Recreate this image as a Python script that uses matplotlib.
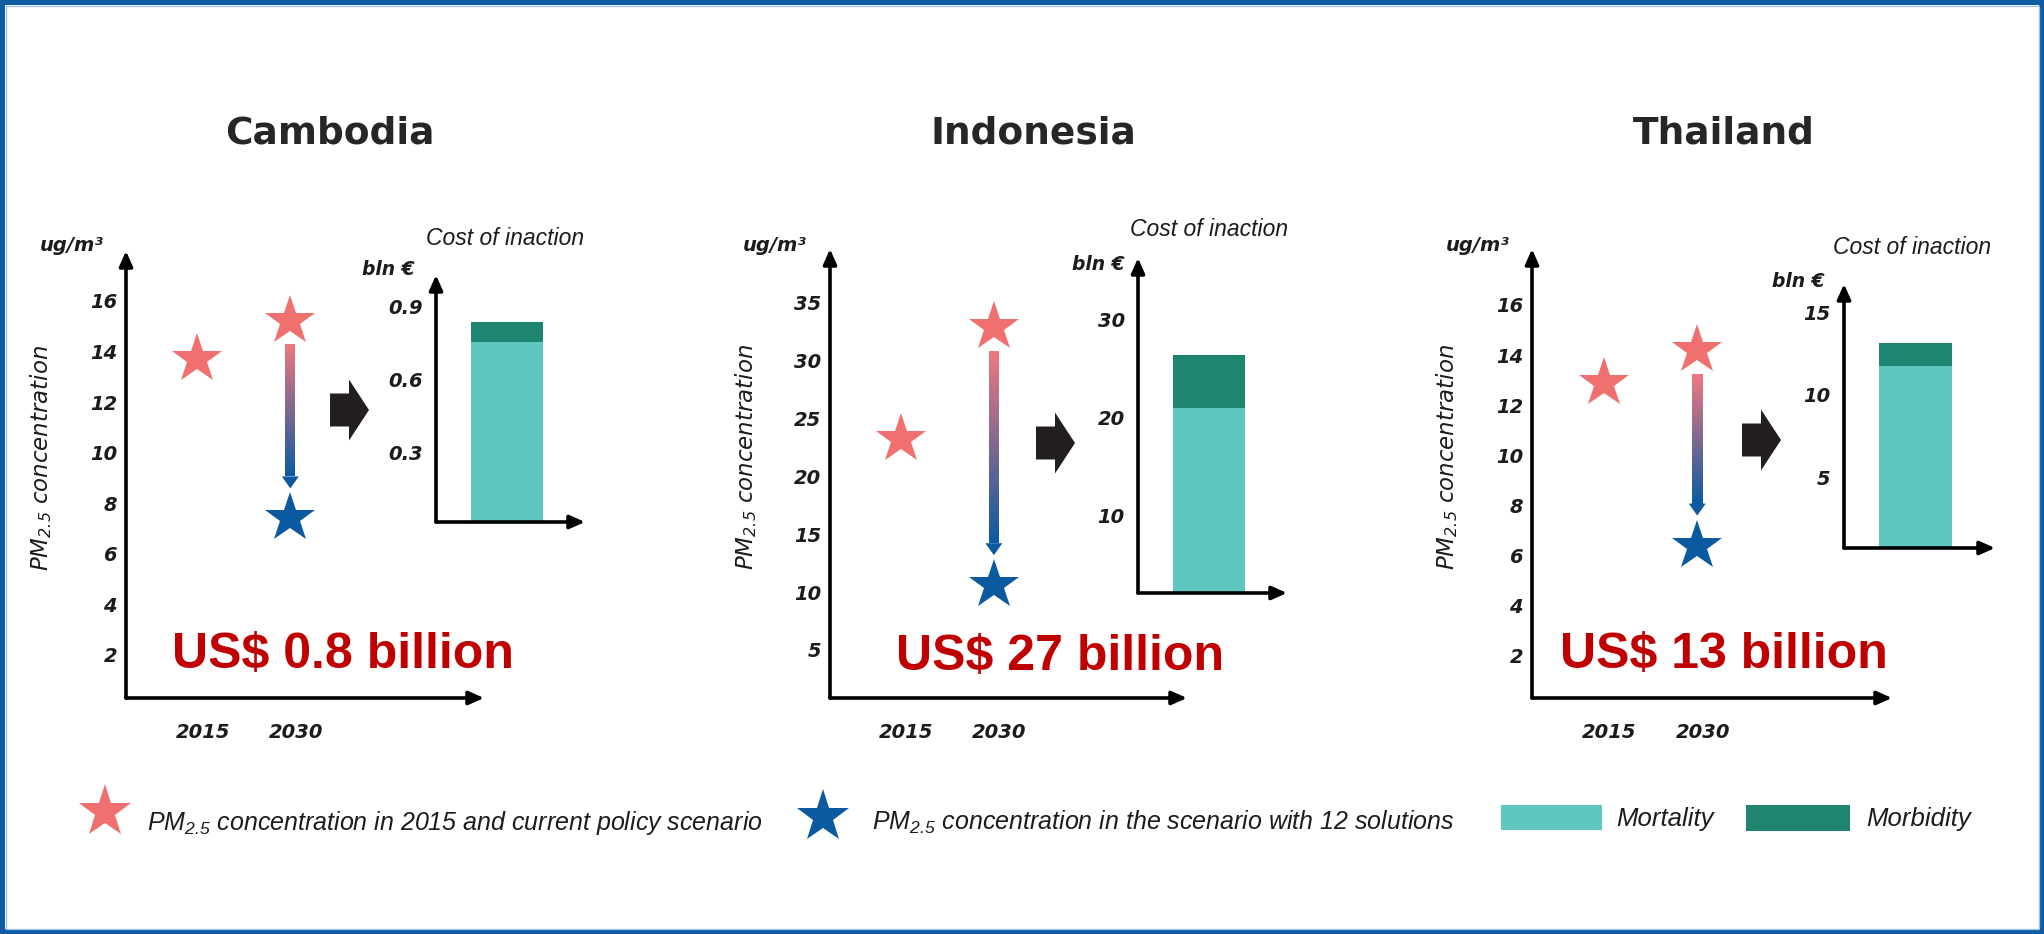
import numpy as np
import matplotlib
matplotlib.use("Agg")
import matplotlib.pyplot as plt
from matplotlib.patches import Polygon, Rectangle

W, H = 2044, 934

# --- data -------------------------------------------------------------
countries = ["Cambodia", "Indonesia", "Thailand"]
years = ["2015", "2030"]
pm_2015 = [13.7, 23.2, 12.9]
pm_2030_current = [15.2, 32.9, 14.2]
pm_2030_solutions = [7.4, 10.6, 6.4]
pm_ticks = [[2, 4, 6, 8, 10, 12, 14, 16],
            [5, 10, 15, 20, 25, 30, 35],
            [2, 4, 6, 8, 10, 12, 14, 16]]
mortality = [0.753, 21.0, 11.75]
morbidity = [0.082, 5.3, 1.35]
cost_ticks = [[0.3, 0.6, 0.9], [10, 20, 30], [5, 10, 15]]
cost_tick_labels = [["0.3", "0.6", "0.9"], ["10", "20", "30"], ["5", "10", "15"]]
cost_usd = ["US$ 0.8 billion", "US$ 27 billion", "US$ 13 billion"]

# --- layout (pixels: left, top, right, bottom) ------------------------
main_box = [(126, 251, 484, 698), (830, 249, 1187, 698), (1532, 249, 1892, 698)]
main_ylim = [(0.30, 17.97), (0.85, 39.66), (0.32, 18.23)]
main_xlim = (0.235, 4.08)
inset_box = [(436, 275, 585, 522), (1138, 258, 1287, 593), (1844, 284, 1995, 548)]
inset_ylim = [(0.018, 1.027), (2.18, 36.2), (0.70, 16.7)]
title_pos = [(330, 144), (1033, 144), (1724, 144)]
unit_pos = [(72, 251), (775, 251), (1478, 251)]
cost_title_pos = [(505, 245), (1209, 236), (1912, 254)]
bln_pos = [(388, 275), (1098, 270), (1798, 287)]
usd_pos = [(343, 668), (1060, 670), (1724, 668)]
block_arrow_pos = [(330, 410), (1036, 443), (1742, 440)]

RED = "#f07070"
BLUE = "#0b5aa0"
MORT = "#5fc6c0"
MORB = "#1f8470"
INK = "#1c1c1c"
SANS = "Liberation Sans"

plt.rcParams["font.family"] = "DejaVu Sans"
fig = plt.figure(figsize=(W / 100, H / 100), dpi=100)


def px_axes(box):
    l, t, r, b = box
    return fig.add_axes([l / W, 1 - b / H, (r - l) / W, (b - t) / H])


def arrow_axes(ax):
    for s in ax.spines.values():
        s.set_visible(False)
    for end in [(0, 1), (1, 0)]:
        ax.annotate("", xy=end, xytext=(0, 0), xycoords="axes fraction",
                    arrowprops=dict(arrowstyle="-|>,head_length=0.45,head_width=0.2",
                                    lw=2.6, color="black", shrinkA=0, shrinkB=0,
                                    mutation_scale=20))


def gradient_arrow(ax, x, y_top, y_bottom):
    # shaft fades from the red star down to the blue one, with a blue head
    tr = ax.transData
    inv = tr.inverted()
    xp, top_px = tr.transform((x, y_top))
    _, bot_px = tr.transform((x, y_bottom))
    start = top_px - 24
    tip = bot_px + 30
    head = 12
    x0, y0 = inv.transform((xp - 5, tip + head))
    x1, y1 = inv.transform((xp + 5, start))
    t = np.linspace(0, 1, 200)[:, None]
    c_top = np.array([0.94, 0.47, 0.50])
    c_bot = np.array(matplotlib.colors.to_rgb(BLUE))
    img = (c_top * (1 - t) + c_bot * t)[:, None, :]
    ax.imshow(img, extent=[x0, x1, y0, y1], origin="upper", aspect="auto",
              interpolation="bilinear", zorder=2)
    hx0, hy = inv.transform((xp - 8.5, tip + head))
    hx1, _ = inv.transform((xp + 8.5, tip + head))
    _, ty = inv.transform((xp, tip))
    ax.add_patch(Polygon([(hx0, hy), (hx1, hy), (x, ty)], closed=True,
                         color=BLUE, lw=0, zorder=2))


num_font = dict(fontstyle="italic", fontweight="bold", fontsize=14, color=INK)

for i, name in enumerate(countries):
    # PM2.5 concentration panel
    ax = px_axes(main_box[i])
    ax.set_facecolor("none")
    ax.set_xlim(*main_xlim)
    ax.set_ylim(*main_ylim[i])
    arrow_axes(ax)
    ax.set_xticks([])
    ax.set_yticks(pm_ticks[i])
    ax.set_yticklabels([str(v) for v in pm_ticks[i]], **num_font)
    ax.tick_params(axis="y", length=0, pad=6.5)
    ax.set_ylabel(r"$\mathregular{PM_{2.5}}$ concentration", fontsize=16.5,
                  fontstyle="italic", color=INK)
    ax.yaxis.set_label_coords(-0.2, 0.537)
    for k, yr in enumerate(years):
        ax.annotate(yr, xy=(k + 1, 0), xycoords=("data", "axes fraction"),
                    xytext=(4, -29), textcoords="offset points", ha="center",
                    va="baseline", **num_font)

    gradient_arrow(ax, 2, pm_2030_current[i], pm_2030_solutions[i])
    ax.plot([1, 2], [pm_2015[i], pm_2030_current[i]], ls="none", marker="*",
            ms=38, mew=0, color=RED, clip_on=False, zorder=3)
    ax.plot([2], [pm_2030_solutions[i]], ls="none", marker="*",
            ms=38, mew=0, color=BLUE, clip_on=False, zorder=3)
    ax.set_xlim(*main_xlim)
    ax.set_ylim(*main_ylim[i])

    # cost of inaction panel
    bx = px_axes(inset_box[i])
    bx.set_facecolor("none")
    bx.set_xlim(0, 1)
    bx.set_ylim(*inset_ylim[i])
    arrow_axes(bx)
    bx.bar(0.475, mortality[i], width=0.48, color=MORT, zorder=1)
    bx.bar(0.475, morbidity[i], width=0.48, bottom=mortality[i], color=MORB, zorder=1)
    bx.set_xticks([])
    bx.set_yticks(cost_ticks[i])
    bx.set_yticklabels(cost_tick_labels[i], **num_font)
    bx.tick_params(axis="y", length=0, pad=9.5)

# overlay in pixel units for titles, annotations, legend and frame
ov = fig.add_axes([0, 0, 1, 1])
ov.set_xlim(0, W)
ov.set_ylim(H, 0)
ov.axis("off")

for i, name in enumerate(countries):
    ov.text(*title_pos[i], name, ha="center", va="baseline", fontsize=27,
            fontweight="bold", color="#262626")
    ov.text(*unit_pos[i], "ug/m³", ha="center", va="baseline", fontsize=14,
            fontstyle="italic", fontweight="bold", color=INK)
    ov.text(*cost_title_pos[i], "Cost of inaction", ha="center", va="baseline",
            fontsize=16.5, fontstyle="italic", family=SANS, color=INK)
    ov.text(*bln_pos[i], "bln €", ha="center", va="baseline", fontsize=13.5,
            fontstyle="italic", fontweight="bold", color=INK)
    ov.text(*usd_pos[i], cost_usd[i], ha="center", va="baseline", fontsize=36,
            fontweight="bold", family=SANS, color="#c00000")
    bx0, by = block_arrow_pos[i]
    ov.add_patch(Polygon([(bx0, by - 16.5), (bx0 + 19, by - 16.5), (bx0 + 19, by - 30.5),
                          (bx0 + 39, by), (bx0 + 19, by + 30.5), (bx0 + 19, by + 16.5),
                          (bx0, by + 16.5)], closed=True, color="#231f20", lw=0))

# legend
ov.plot([105], [812], ls="none", marker="*", ms=40, mew=0, color=RED)
ov.text(147, 830, r"$\mathregular{PM_{2.5}}$ concentration in 2015 and current policy scenario",
        va="baseline", fontsize=18, fontstyle="italic", family=SANS, color=INK)
ov.plot([823], [817], ls="none", marker="*", ms=40, mew=0, color=BLUE)
ov.text(872, 830, r"$\mathregular{PM_{2.5}}$ concentration in the scenario with 12 solutions",
        va="baseline", fontsize=18, fontstyle="italic", family=SANS, color=INK)
ov.add_patch(Rectangle((1501, 805), 101, 25, color=MORT, lw=0))
ov.text(1616, 826, "Mortality", va="baseline", fontsize=18.5, fontstyle="italic",
        family=SANS, color=INK)
ov.add_patch(Rectangle((1746, 805), 104, 26, color=MORB, lw=0))
ov.text(1866, 826, "Morbidity", va="baseline", fontsize=18.5, fontstyle="italic",
        family=SANS, color=INK)

# frame
ov.add_patch(Rectangle((0, 0), W, H, fill=False, lw=7.2, ec="#0f5ca4", clip_on=False))
ov.add_patch(Rectangle((5.5, 5.5), W - 11, H - 11, fill=False, lw=0.9, ec="#9cc3e6",
                       clip_on=False))

fig.savefig("out.png", dpi=100)
